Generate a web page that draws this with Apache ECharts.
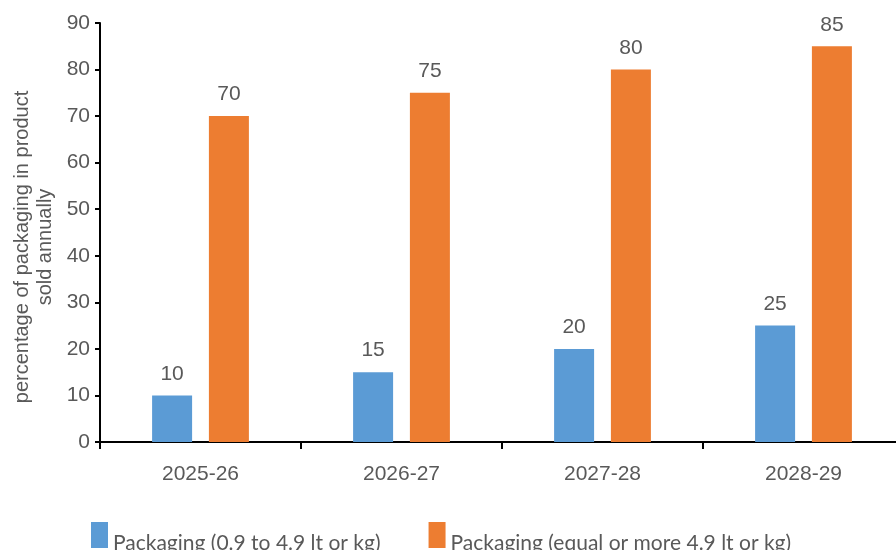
<!DOCTYPE html>
<html>
<head>
<meta charset="utf-8">
<script src="https://cdn.jsdelivr.net/npm/echarts@6/dist/echarts.min.js"></script>
<style>
  html, body { margin: 0; padding: 0; background: #fff; }
  #chart { width: 896px; height: 550px; }
</style>
</head>
<body>
<div id="chart"></div>
<script>
// Financial years on the category axis
const years = ['2025-26', '2026-27', '2027-28', '2028-29'];
// Share of packaging in product sold annually (%)
const smallPack = [10, 15, 20, 25];
const largePack = [70, 75, 80, 85];
const seriesNames = ['Packaging (0.9 to 4.9 lt or kg)', 'Packaging (equal or more 4.9 lt or kg)'];
const yTitle = 'percentage of packaging in product\nsold annually';

const AXIS_FONT = '"Liberation Sans", Arial, sans-serif';
const LEGEND_FONT = 'Lato, "Open Sans", sans-serif';
const TEXT = '#595959';

const chart = echarts.init(document.getElementById('chart'));
chart.setOption({
  animation: false,
  textStyle: { fontFamily: AXIS_FONT },
  // the plot runs a little past the right edge of the canvas
  grid: { left: 100, top: 23, width: 804, height: 419, containLabel: false, outerBoundsMode: 'none' },
  legend: {
    left: 91, top: 522, padding: 0,
    itemWidth: 17, itemHeight: 26, itemGap: 48,
    icon: 'rect',
    // legend labels sit low, level with the bottom of the swatches
    formatter: '{t|{name}}',
    textStyle: {
      color: TEXT, fontSize: 21, fontFamily: LEGEND_FONT,
      rich: { t: { color: TEXT, fontSize: 21, fontFamily: LEGEND_FONT, padding: [16, 0, 0, 0] } }
    },
    data: seriesNames
  },
  xAxis: {
    type: 'category',
    data: years,
    axisLine: { lineStyle: { color: '#000', width: 2 } },
    axisTick: { show: true, length: 7, lineStyle: { color: '#000', width: 2 } },
    axisLabel: { color: TEXT, fontSize: 21, margin: 22, fontFamily: AXIS_FONT }
  },
  yAxis: {
    type: 'value',
    min: 0, max: 90, interval: 10,
    axisLine: { show: true, lineStyle: { color: '#000', width: 2 } },
    axisTick: { show: true, length: 5, lineStyle: { color: '#000', width: 2 } },
    axisLabel: { color: TEXT, fontSize: 21, margin: 10, fontFamily: AXIS_FONT },
    splitLine: { show: false }
  },
  graphic: [{
    type: 'text',
    x: 34, y: 247,
    rotation: Math.PI / 2,
    style: {
      text: yTitle,
      fill: TEXT,
      font: '20px ' + AXIS_FONT,
      textAlign: 'center',
      textVerticalAlign: 'middle',
      lineHeight: 23
    }
  }],
  series: [
    {
      name: seriesNames[0], type: 'bar', data: smallPack,
      barWidth: 40, barGap: '42%',
      itemStyle: { color: '#5B9BD5' },
      label: { show: true, position: 'top', distance: 11, color: TEXT, fontSize: 21, fontFamily: AXIS_FONT }
    },
    {
      name: seriesNames[1], type: 'bar', data: largePack,
      barWidth: 40, barGap: '42%',
      itemStyle: { color: '#ED7D31' },
      label: { show: true, position: 'top', distance: 11, color: TEXT, fontSize: 21, fontFamily: AXIS_FONT }
    }
  ]
});
</script>
</body>
</html>
